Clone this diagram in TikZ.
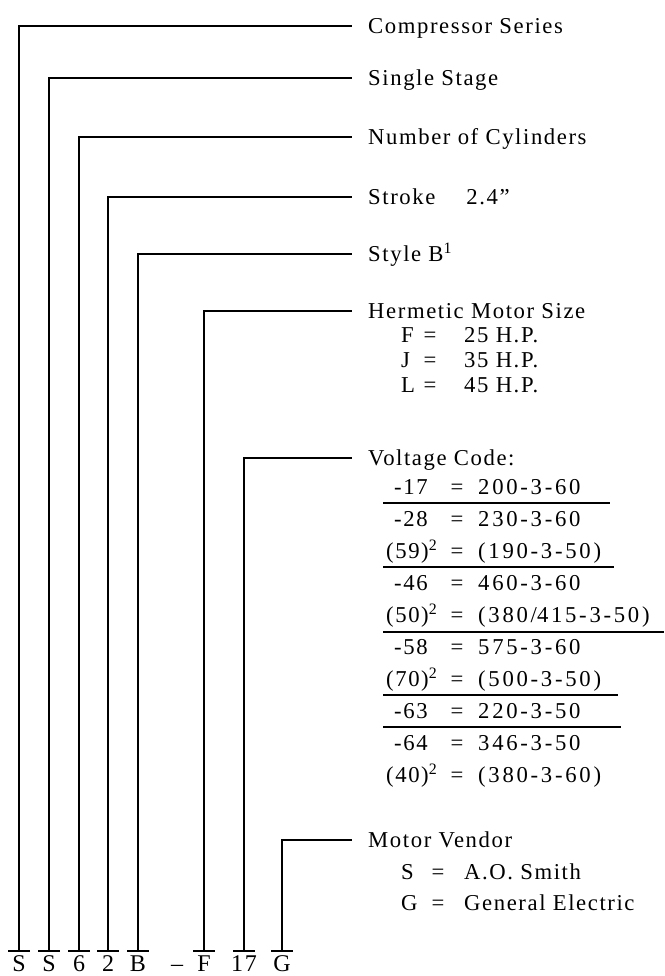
\documentclass[tikz,border=0pt]{standalone}
\usepackage{fontspec}
\setmainfont{Liberation Serif}[LetterSpace=7]
\newfontfamily\widefam{Liberation Serif}[LetterSpace=12]
\newcommand\labfont{\fontsize{22.7pt}{27pt}\selectfont}
\newcommand\tabfont{\widefam\fontsize{22.7pt}{27pt}\selectfont}
\newcommand\codefont{\fontsize{24pt}{29pt}\selectfont}
\newcommand\supr[1]{\textsuperscript{#1}}
\begin{document}
\begin{tikzpicture}[x=1pt,y=-1pt,
  lbl/.style={anchor=base west,inner sep=0pt,font=\labfont},
  cel/.style={anchor=base,inner sep=0pt,font=\labfont},
  val/.style={anchor=base west,inner sep=0pt,font=\tabfont},
  code/.style={anchor=base,inner sep=0pt,font=\codefont},
  conn/.style={line width=1.8pt,line join=miter},
  bar/.style={line width=2pt},
  rule/.style={line width=1.4pt}]
\useasboundingbox (0,0) rectangle (664,976);
% bottom code letters
\foreach \n/\x/\t in {c1/19/S,c2/49/S,c3/79/6,c4/108/2,c5/138/B,c6/204/F,c7/244/17,c8/282/G}{
  \node[code] (\n) at (\x,971.5) {\t};
  \coordinate (b\n) at (\x,951);
  \draw[bar] ([xshift=-11pt]b\n) -- ([xshift=11pt]b\n);
}
\node[code] (dash) at (177,971.5) {–};
% label ends
\foreach \n/\y in {cs/26,ss/78,nc/137,st/197,sb/254,hm/311,vc/458,mv/840}{
  \coordinate (e\n) at (352,\y);
}
% labels
\node[lbl] (cs) at (368,33.5) {Compressor Series};
\node[lbl] (ss) at (368,85.5) {Single Stage};
\node[lbl] (nc) at (368,144.5) {Number of Cylinders};
\node[lbl] (st) at (368,204.5) {Stroke\hspace{31pt}2.4”};
\node[lbl] (sb) at (368,261.5) {Style B\supr{1}};
\node[lbl] (hm) at (368,318.5) {Hermetic Motor Size};
\node[lbl] (vc) at (368,465.5) {Voltage Code:};
\node[lbl] (mv) at (368,847.5) {Motor Vendor};
% connectors
\draw[conn] (bc1) |- (ecs);
\draw[conn] (bc2) |- (ess);
\draw[conn] (bc3) |- (enc);
\draw[conn] (bc4) |- (est);
\draw[conn] (bc5) |- (esb);
\draw[conn] (bc6) |- (ehm);
\draw[conn] (bc7) |- (evc);
\draw[conn,line width=1.4pt] (bc8) |- (emv);
% hermetic motor sizes
\foreach \n/\y/\a/\b in {h1/335/F/25 H.P.,h2/360/J/35 H.P.,h3/385/L/45 H.P.}{
  \node[lbl] (\n a) at (401,\y+7.5) {\a};
  \node[cel] (\n e) at (430,\y+7.5) {=};
  \node[lbl] (\n b) at (464,\y+7.5) {\b};
}
% voltage table
\foreach \n/\y/\x/\a/\b in {v1/487/394/-17/200-3-60,v2/519/394/-28/230-3-60,v3/551/386/(59)\supr{2}/(190-3-50),
  v4/583/394/-46/460-3-60,v5/615/386/(50)\supr{2}/(380\slash 415-3-50),v6/647/394/-58/575-3-60,
  v7/679/386/(70)\supr{2}/(500-3-50),v8/711/394/-63/220-3-50,v9/743/394/-64/346-3-50,v10/775/386/(40)\supr{2}/(380-3-60)}{
  \node[lbl] (\n a) at (\x,\y+7.5) {\a};
  \node[cel] (\n e) at (457,\y+7.5) {=};
  \node[val] (\n b) at (478,\y+7.5) {\b};
}
\coordinate (u1s) at (383,503); \coordinate (u1e) at (610,503);
\coordinate (u2s) at (383,567); \coordinate (u2e) at (614,567);
\coordinate (u3s) at (383,632); \coordinate (u3e) at (664,632);
\coordinate (u4s) at (383,695); \coordinate (u4e) at (618,695);
\coordinate (u5s) at (383,727); \coordinate (u5e) at (621,727);
\foreach \i in {1,...,5}{ \draw[rule] (u\i s) -- (u\i e); }
% motor vendor
\foreach \n/\y/\a/\b in {m1/872/S/A.O. Smith,m2/903/G/General Electric}{
  \node[lbl] (\n a) at (401,\y+7.5) {\a};
  \node[cel] (\n e) at (438,\y+7.5) {=};
  \node[lbl] (\n b) at (464,\y+7.5) {\b};
}
\end{tikzpicture}
\end{document}
